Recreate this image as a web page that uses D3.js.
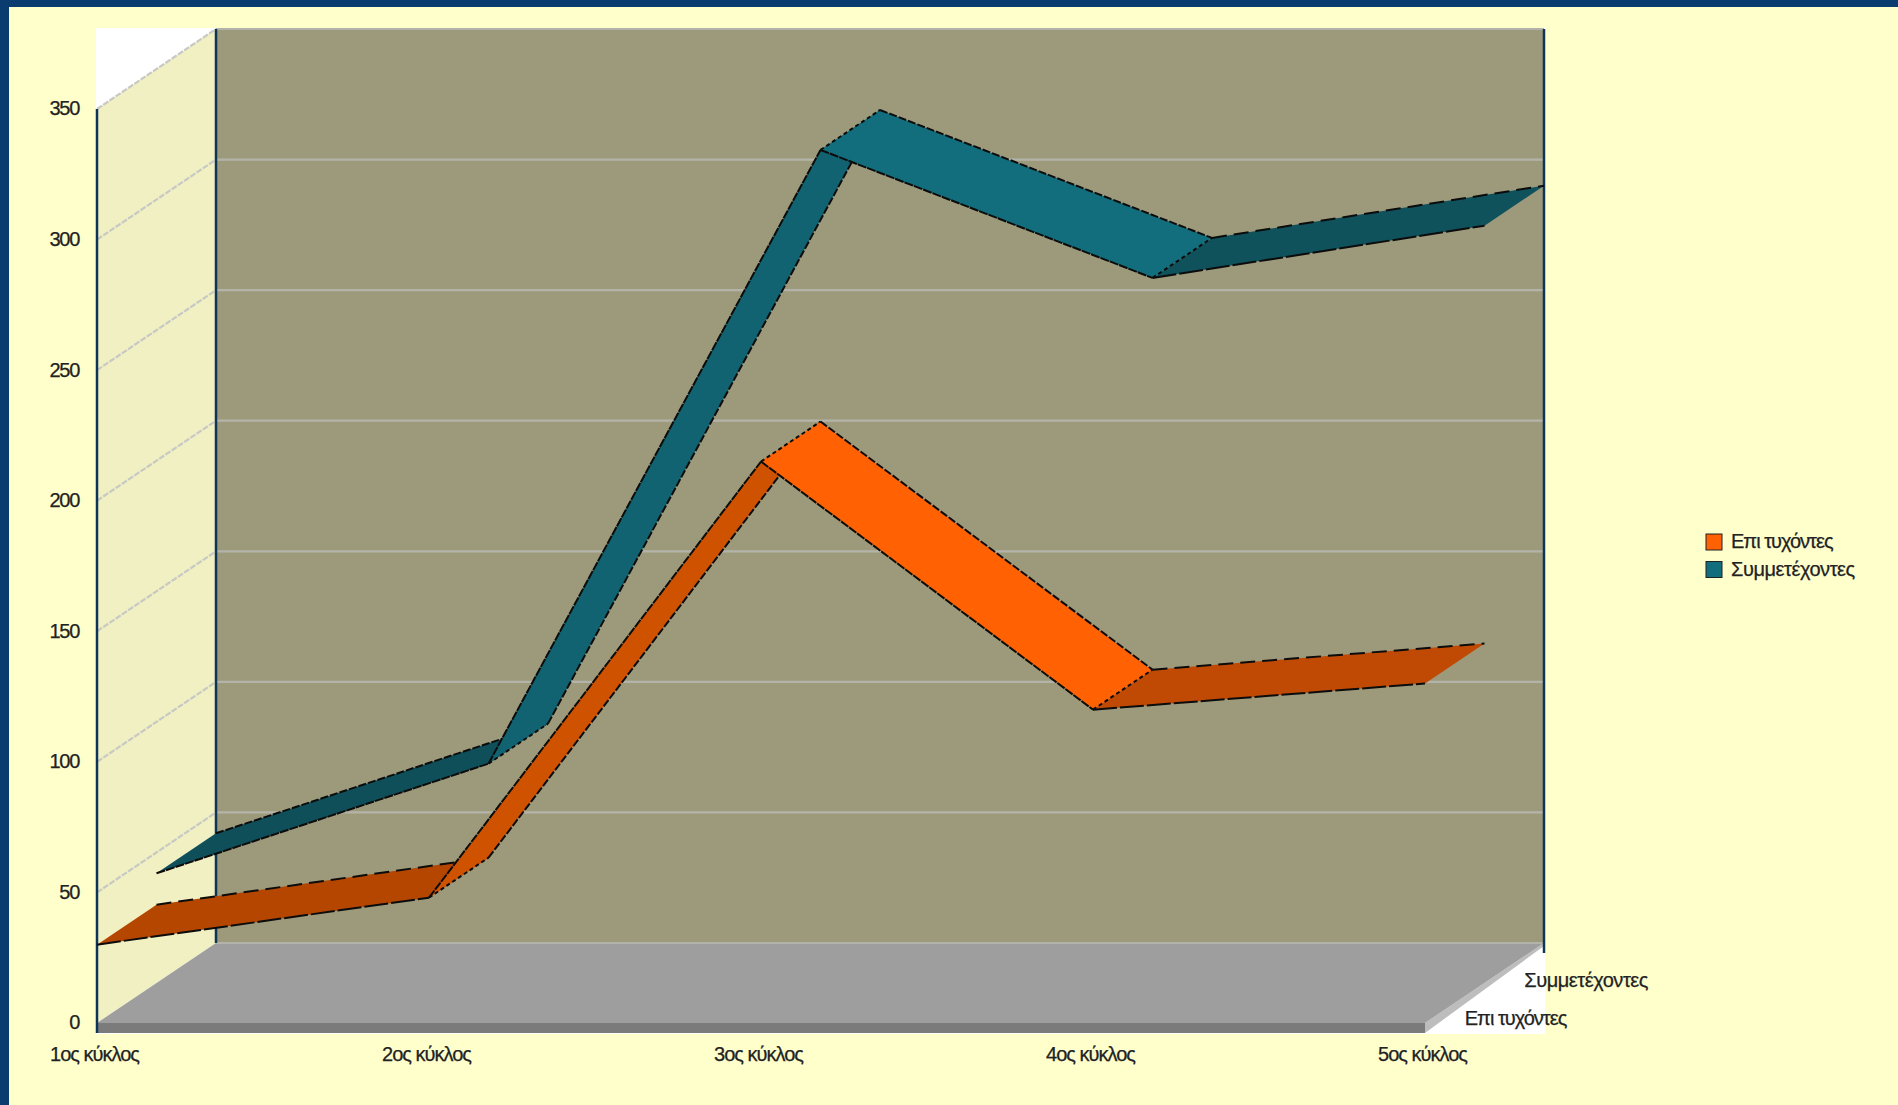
<!DOCTYPE html>
<html>
<head>
<meta charset="utf-8">
<script src="https://cdn.jsdelivr.net/npm/d3@7"></script>
<style>
  html, body { margin: 0; padding: 0; background: #FFFFCC; overflow: hidden; }
  text { font-family: "Liberation Sans", Arial, sans-serif; font-size: 20px; letter-spacing: -1px; fill: #222; stroke: #222; stroke-width: 0.25; }
  .edge { fill: none; stroke: #0c0c0c; stroke-width: 2; }
  .wide { letter-spacing: -0.45px; }
  .ytick text { letter-spacing: -1.3px; }
</style>
</head>
<body>
<svg id="chart" width="1898" height="1105"></svg>
<script>
var cycles = ["1ος κύκλος", "2ος κύκλος", "3ος κύκλος", "4ος κύκλος", "5ος κύκλος"];
var seriesNames = ["Επι τυχόντες", "Συμμετέχοντες"];
var epityxontes = [30, 48, 215, 120, 130];
var symmetexontes = [42, 84, 319, 270, 290];
var yTicks = [0, 50, 100, 150, 200, 250, 300, 350];

// shade of each segment, 1->2, 2->3, 3->4, 4->5
var orangeShades = ["#B54600", "#CF5200", "#FF6103", "#C04A04"];
var tealShades = ["#0F4F5A", "#116372", "#126D7C", "#0F525C"];
var legendColors = ["#FF6103", "#126D7C"];

var svg = d3.select("#chart");

// page frame
svg.append("rect").attr("width", 1898).attr("height", 1105).attr("fill", "#FFFFCC");
svg.append("rect").attr("width", 1898).attr("height", 7).attr("fill", "#0A3C70");
svg.append("rect").attr("width", 9).attr("height", 1105).attr("fill", "#0A3C70");

var x = d3.scalePoint().domain(cycles).range([97, 1425]);
var y = d3.scaleLinear().domain([0, 350]).range([1023, 109]);
var depthX = d3.scaleLinear().domain([0, 1]).range([0, 119]);
var depthY = d3.scaleLinear().domain([0, 1]).range([0, -80]);

// project chart coordinates (category, value, depth) to the screen
function px(c, z) { return x(c) + depthX(z); }
function py(v, z) { return y(v) + depthY(z); }
var poly = d3.line();

var xL = x(cycles[0]), xR = x(cycles[4]);

svg.append("rect").attr("x", 96).attr("y", 28).attr("width", 1449).attr("height", 1006).attr("fill", "#fff");

// back wall, side wall, floor
svg.append("path").attr("fill", "#9C9A7B")
  .attr("d", poly([[px(cycles[0], 1), py(350, 1)], [px(cycles[4], 1), py(350, 1)], [px(cycles[4], 1), py(0, 1)], [px(cycles[0], 1), py(0, 1)]]) + "Z");
svg.append("path").attr("fill", "#F0F0C2")
  .attr("d", poly([[xL, py(0, 0)], [px(cycles[0], 1), py(0, 1)], [px(cycles[0], 1), py(350, 1)], [xL, py(350, 0)]]) + "Z");
svg.append("path").attr("fill", "#BDBDBD")
  .attr("d", poly([[xR, py(0, 0)], [px(cycles[4], 1), py(0, 1)], [px(cycles[4], 1), py(0, 1) + 3], [xR, py(0, 0) + 10]]) + "Z");
svg.append("path").attr("fill", "#9E9E9E")
  .attr("d", poly([[xL, py(0, 0)], [px(cycles[0], 1), py(0, 1)], [px(cycles[4], 1), py(0, 1)], [xR, py(0, 0)]]) + "Z");
svg.append("rect").attr("x", xL).attr("y", py(0, 0)).attr("width", xR - xL).attr("height", 10).attr("fill", "#7B7B7B");

// gridlines, on the side wall and then the back wall
yTicks.forEach(function(t) {
  if (t > 0) {
    svg.append("line")
      .attr("x1", xL).attr("y1", py(t, 0)).attr("x2", px(cycles[0], 1)).attr("y2", py(t, 1))
      .attr("stroke", "#C8C8C4").attr("stroke-width", 2.2).attr("stroke-dasharray", "6,1.5");
  }
  svg.append("line")
    .attr("x1", px(cycles[0], 1)).attr("y1", py(t, 1)).attr("x2", px(cycles[4], 1)).attr("y2", py(t, 1))
    .attr("stroke", "#B4B3AA").attr("stroke-width", 2.2);
});

// the three dark uprights
var axisColor = "#0D3557";
svg.append("line").attr("x1", xL).attr("x2", xL).attr("y1", py(350, 0)).attr("y2", py(0, 0) + 10)
  .attr("stroke", axisColor).attr("stroke-width", 2.5);
svg.append("line").attr("x1", px(cycles[0], 1)).attr("x2", px(cycles[0], 1)).attr("y1", py(350, 1)).attr("y2", py(0, 1))
  .attr("stroke", axisColor).attr("stroke-width", 2.5);
svg.append("line").attr("x1", px(cycles[4], 1)).attr("x2", px(cycles[4], 1)).attr("y1", py(350, 1)).attr("y2", py(0, 1) + 10)
  .attr("stroke", axisColor).attr("stroke-width", 2.5);

// ribbons, back series first, segments left to right
function ribbon(values, shades, z0, z1) {
  d3.range(values.length - 1).forEach(function(i) {
    var a = cycles[i], b = cycles[i + 1];
    var f0 = [px(a, z0), py(values[i], z0)], f1 = [px(b, z0), py(values[i + 1], z0)];
    var b0 = [px(a, z1), py(values[i], z1)], b1 = [px(b, z1), py(values[i + 1], z1)];

    svg.append("path").attr("fill", shades[i]).attr("d", poly([f0, f1, b1, b0]) + "Z");

    var shallow = Math.abs(f1[1] - f0[1]) < 100;
    svg.append("path").attr("class", "edge").attr("d", poly([f0, f1]))
      .attr("stroke-dasharray", shallow ? "24,3" : "9,1");
    svg.append("path").attr("class", "edge").attr("d", poly([b0, b1]))
      .attr("stroke-dasharray", shallow ? "15,7" : "8,2");
    if (i > 0) {
      svg.append("path").attr("class", "edge").attr("d", poly([f0, b0]))
        .attr("stroke-width", 1.4).attr("stroke-dasharray", "4,3");
    }
  });
}
ribbon(symmetexontes, tealShades, 0.5, 1);
ribbon(epityxontes, orangeShades, 0, 0.5);

// axes
var yAxis = d3.axisLeft(y).tickValues(yTicks).tickSize(0).tickPadding(18);
svg.append("g").attr("class", "ytick").attr("transform", "translate(" + xL + ",-0.5)").call(yAxis)
  .call(function(g) { g.select(".domain").remove(); })
  .selectAll("text").attr("font-size", null).attr("font-family", null);

var xAxis = d3.axisBottom(x).tickSize(0).tickPadding(14);
svg.append("g").attr("transform", "translate(-3," + (py(0, 0) + 10) + ")").call(xAxis)
  .call(function(g) { g.select(".domain").remove(); })
  .selectAll("text").attr("font-size", null).attr("font-family", null);

// depth labels
svg.selectAll(".depth").data(seriesNames).enter().append("text")
  .attr("class", function(d, i) { return i ? "depth wide" : "depth"; })
  .attr("x", function(d, i) { return px(cycles[4], i ? 0.75 : 0.25) + 10; })
  .attr("y", function(d, i) { return py(0, i ? 0.75 : 0.25) + (i ? 17 : 15); })
  .attr("dy", "0.35em")
  .text(function(d) { return d; });

// legend
var legend = svg.selectAll(".legend").data(seriesNames).enter().append("g")
  .attr("class", "legend")
  .attr("transform", function(d, i) { return "translate(1706," + (534 + i * 27.5) + ")"; });
legend.append("rect").attr("width", 16).attr("height", 16)
  .attr("fill", function(d, i) { return legendColors[i]; })
  .attr("stroke", "#222").attr("stroke-width", 1);
legend.append("text").attr("class", function(d, i) { return i ? "wide" : null; })
  .attr("x", 25).attr("y", 7).attr("dy", "0.35em").text(function(d) { return d; });
</script>
</body>
</html>
